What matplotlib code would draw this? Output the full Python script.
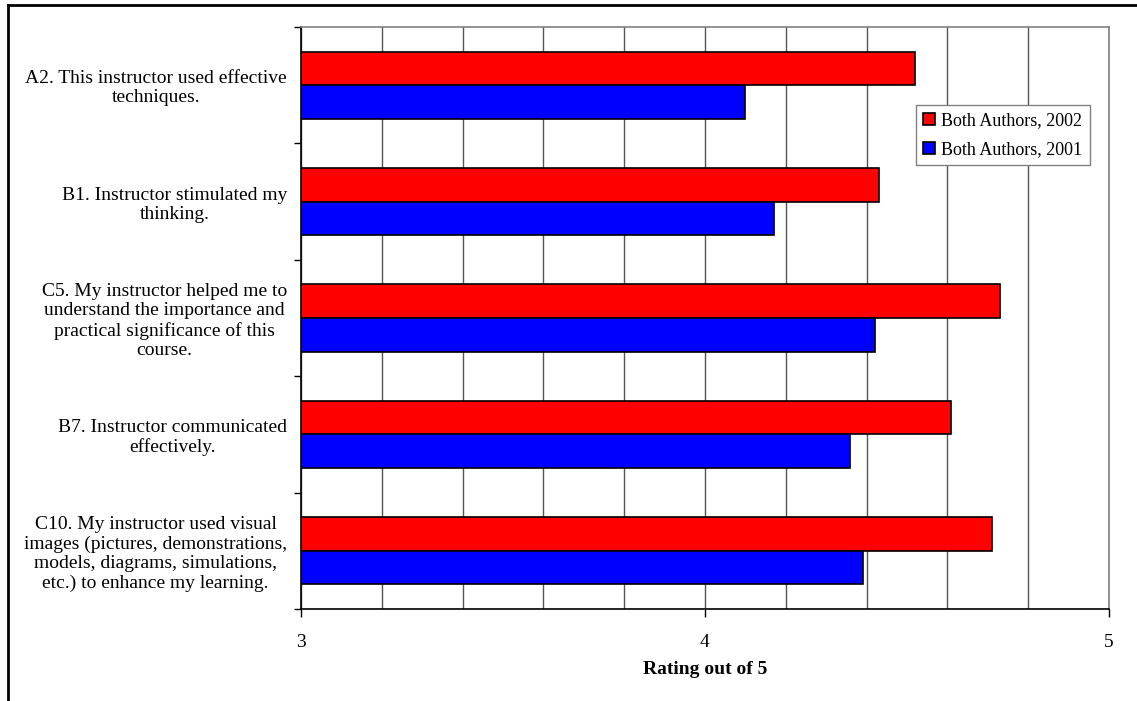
import numpy as np
import matplotlib.pyplot as plt
from matplotlib.lines import Line2D

# survey items, top to bottom
items = [
    "A2. This instructor used effective\ntechniques.",
    "B1. Instructor stimulated my\nthinking.",
    "C5. My instructor helped me to\nunderstand the importance and\npractical significance of this\ncourse.",
    "B7. Instructor communicated\neffectively.",
    "C10. My instructor used visual\nimages (pictures, demonstrations,\nmodels, diagrams, simulations,\netc.) to enhance my learning.",
]
ratings_2002 = [4.52, 4.43, 4.73, 4.61, 4.71]
ratings_2001 = [4.10, 4.17, 4.42, 4.36, 4.39]

plt.rcParams['font.family'] = ['Liberation Serif', 'DejaVu Serif']

fig = plt.figure(figsize=(11.37, 7.01), dpi=100)
ax = fig.add_axes([301 / 1137, 1 - 609 / 701, 808 / 1137, 582 / 701])

y = np.arange(len(items))
h = 0.288
ax.barh(y - h / 2, [v - 3 for v in ratings_2002], height=h, left=3, color='#ff0000',
        edgecolor='black', linewidth=1.2, label='Both Authors, 2002', zorder=3)
ax.barh(y + h / 2, [v - 3 for v in ratings_2001], height=h, left=3, color='#0000ff',
        edgecolor='black', linewidth=1.2, label='Both Authors, 2001', zorder=3)

ax.set_xlim(3, 5)
ax.set_ylim(len(items) - 0.5, -0.5)

# vertical grid every 0.2, labels only at whole numbers
ax.set_xticks([3, 4, 5])
ax.set_xticks(np.arange(3, 5.01, 0.2), minor=True)
ax.grid(axis='x', which='both', color='#555555', linewidth=1.0, zorder=0)
ax.tick_params(axis='x', which='major', length=6, width=1, pad=12, labelsize=14)
ax.tick_params(axis='x', which='minor', length=0)

# category labels centred in each band, ticks on the band edges
ax.set_yticks(y)
ax.set_yticklabels(items, fontsize=14, ha='right', multialignment='center', linespacing=1.17)
ax.tick_params(axis='y', which='major', length=0, pad=10)
ax.set_yticks(np.arange(-0.5, len(items) + 0.5, 1.0), minor=True)
ax.tick_params(axis='y', which='minor', length=5, width=1)

for side in ['top', 'right']:
    ax.spines[side].set_color('#808080')
    ax.spines[side].set_linewidth(1.2)
for side in ['left', 'bottom']:
    ax.spines[side].set_color('black')
    ax.spines[side].set_linewidth(1.2)

ax.set_xlabel('Rating out of 5', fontsize=14, fontweight='bold', labelpad=7)

leg = fig.legend(loc='upper left', bbox_to_anchor=(916 / 1137, 1 - 105 / 701),
                 fontsize=13, fancybox=False, edgecolor='#808080', framealpha=1,
                 handlelength=0.65, handleheight=0.65, handletextpad=0.35,
                 borderpad=0.4, labelspacing=0.65, borderaxespad=0)
leg.get_frame().set_linewidth(1.0)

# outer frame of the chart area
fig.add_artist(Line2D([8 / 1137, 8 / 1137], [0, 1 - 5 / 701], color='black',
                      linewidth=2, transform=fig.transFigure))
fig.add_artist(Line2D([8 / 1137, 1], [1 - 5 / 701, 1 - 5 / 701], color='black',
                      linewidth=2, transform=fig.transFigure))

fig.savefig('out.png', dpi=100)
